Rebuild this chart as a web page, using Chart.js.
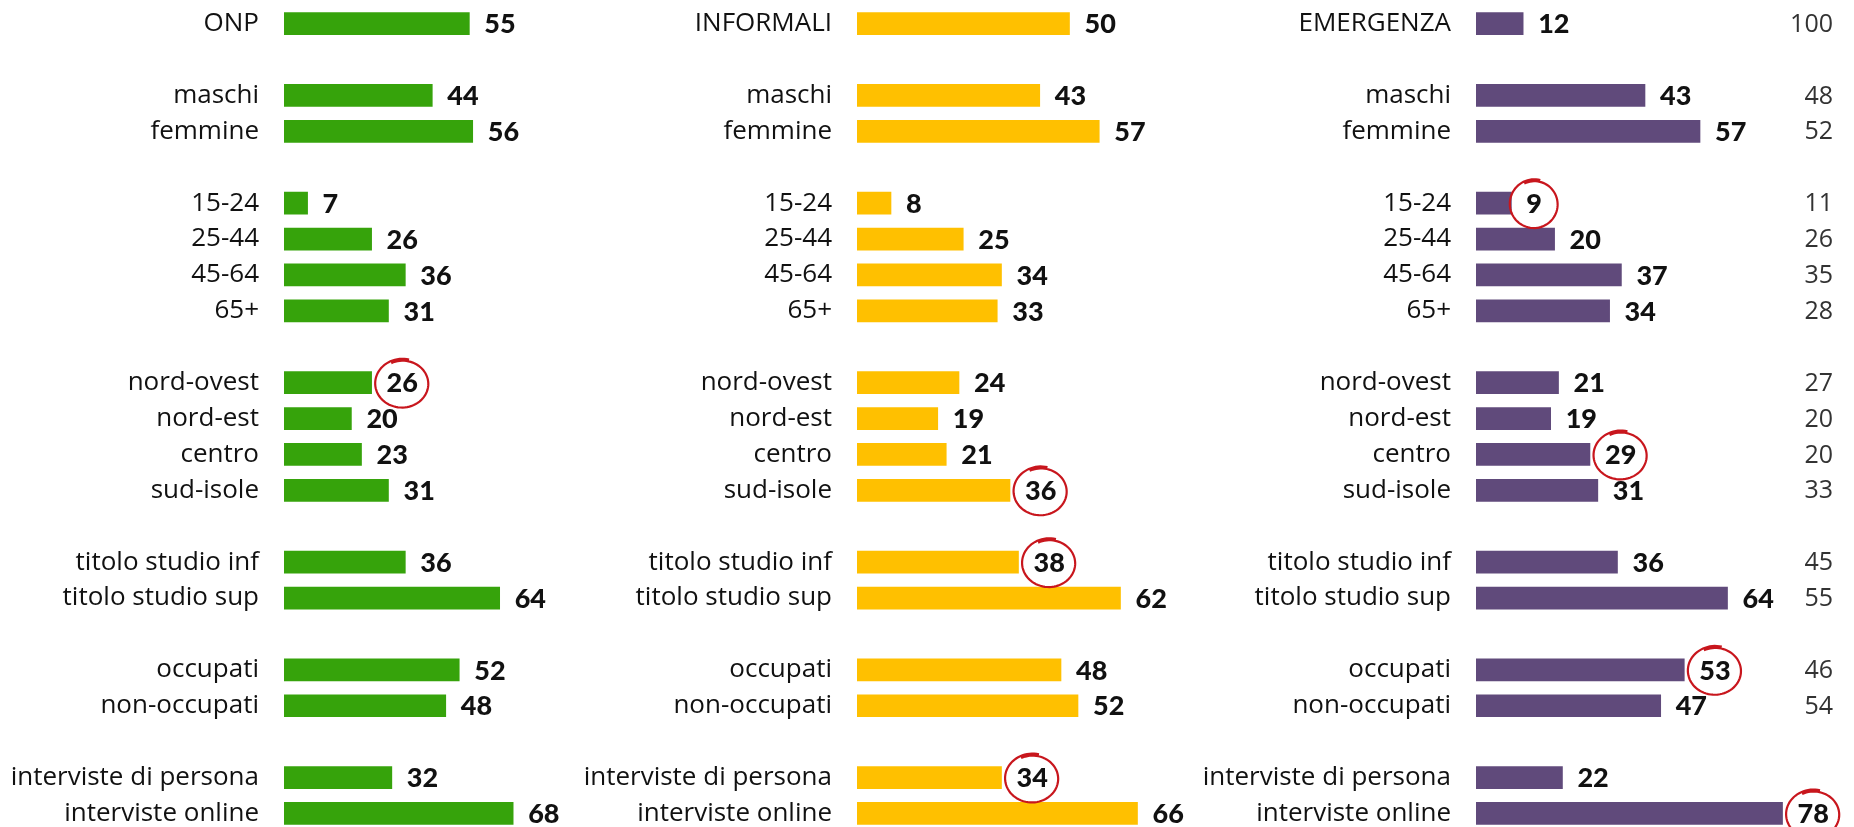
<!DOCTYPE html>
<html>
<head>
<meta charset="utf-8">
<script src="https://cdn.jsdelivr.net/npm/chart.js@4.4.1/dist/chart.umd.min.js"></script>
<style>
  html, body { margin: 0; padding: 0; background: #fff; overflow: hidden; }
  body { width: 1854px; height: 827px; position: relative; }
  canvas { position: absolute; top: 0; }
</style>
</head>
<body>
<canvas id="onp"></canvas>
<canvas id="informali"></canvas>
<canvas id="emergenza"></canvas>
<script>
// righe comuni ai tre pannelli ('' = riga vuota fra i gruppi)
const rowLabels = ['', 'maschi', 'femmine', '', '15-24', '25-44', '45-64', '65+', '',
  'nord-ovest', 'nord-est', 'centro', 'sud-isole', '', 'titolo studio inf', 'titolo studio sup', '',
  'occupati', 'non-occupati', '', 'interviste di persona', 'interviste online'];

const onp       = [55, null, 44, 56, null, 7, 26, 36, 31, null, 26, 20, 23, 31, null, 36, 64, null, 52, 48, null, 32, 68];
const informali = [50, null, 43, 57, null, 8, 25, 34, 33, null, 24, 19, 21, 36, null, 38, 62, null, 48, 52, null, 34, 66];
const emergenza = [12, null, 43, 57, null, 9, 20, 37, 34, null, 21, 19, 29, 31, null, 36, 64, null, 53, 47, null, 22, 78];
const totale    = [100, null, 48, 52, null, 11, 26, 35, 28, null, 27, 20, 20, 33, null, 45, 55, null, 46, 54, null, null, null];

// valori cerchiati in rosso (indice di riga)
const circledOnp = [10];
const circledInformali = [13, 15, 21];
const circledEmergenza = [5, 12, 18, 22];

const H = 840;

function drawCircle(ctx, cx, cy, rx, ry) {
  ctx.beginPath();
  const start = -Math.PI / 2 - 0.45;
  const sweep = Math.PI * 2 + 0.7;
  for (let k = 0; k <= 80; k++) {
    const t = k / 80;
    const a = start + t * sweep;
    const g = 0.95 + 0.09 * t;
    const x = cx + Math.cos(a) * rx * g;
    const y = cy + Math.sin(a) * ry * g;
    if (k === 0) ctx.moveTo(x, y); else ctx.lineTo(x, y);
  }
  ctx.stroke();
}

const barValues = {
  id: 'barValues',
  afterDatasetsDraw(chart, args, opts) {
    const ctx = chart.ctx;
    const meta = chart.getDatasetMeta(0);
    const data = chart.data.datasets[0].data;
    ctx.save();
    ctx.textBaseline = 'middle';
    meta.data.forEach((bar, i) => {
      const v = data[i];
      if (v == null) return;
      const txt = String(v);
      const x = bar.x + 15;
      ctx.font = '900 27px Lato';
      ctx.textAlign = 'left';
      ctx.fillStyle = '#111';
      ctx.fillText(txt, x, bar.y + 1);
      if (opts.circled.includes(i)) {
        const w = ctx.measureText(txt).width;
        ctx.strokeStyle = '#c8161d';
        ctx.lineWidth = 2.2;
        drawCircle(ctx, x + w / 2, bar.y + 1, Math.max(w / 2 + 11, 24), 24);
      }
    });
    if (opts.totals) {
      const ys = chart.scales.y;
      ctx.font = '400 25px "Open Sans"';
      ctx.textAlign = 'right';
      ctx.fillStyle = '#333';
      opts.totals.forEach((t, i) => {
        if (t == null) return;
        ctx.fillText(String(t), opts.totalsX, ys.getPixelForValue(i) + 1);
      });
    }
    ctx.restore();
  }
};

function makePanel(id, left, axisWidth, pxPerUnit, header, values, color, circled, totals) {
  const el = document.getElementById(id);
  const width = Math.round(axisWidth + 100 * pxPerUnit);
  el.width = width;
  el.height = H;
  el.style.left = left + 'px';
  new Chart(el, {
    type: 'bar',
    data: {
      labels: [header, ...rowLabels],
      datasets: [{
        data: values,
        backgroundColor: color,
        borderWidth: 0,
        barThickness: 22
      }]
    },
    plugins: [barValues],
    options: {
      indexAxis: 'y',
      responsive: false,
      animation: false,
      events: [],
      layout: { padding: { top: 5.7, bottom: H - 831.4, left: 0, right: 0 } },
      plugins: {
        legend: { display: false },
        tooltip: { enabled: false },
        barValues: { circled: circled, totals: totals, totalsX: 1833 - left }
      },
      scales: {
        x: { display: false, min: 0, max: 100 },
        y: {
          grid: { display: false, drawTicks: false },
          border: { display: false },
          afterFit(scale) {
            scale.width = axisWidth;
            scale.paddingTop = 0;
            scale.paddingBottom = 0;
          },
          ticks: {
            padding: 25,
            color: '#111',
            font: { family: '"Open Sans"', size: 26 },
            autoSkip: false
          }
        }
      }
    }
  });
}

Promise.all([
  document.fonts.load('400 26px "Open Sans"'),
  document.fonts.load('900 27px Lato')
]).catch(() => {}).then(() => {
  makePanel('onp', 0, 284, 3.37, 'ONP', onp, '#36a30b', circledOnp, null);
  makePanel('informali', 560, 297, 4.25, 'INFORMALI', informali, '#ffc000', circledInformali, null);
  makePanel('emergenza', 1180, 296, 3.93, 'EMERGENZA', emergenza, '#604a7b', circledEmergenza, totale);
});
</script>
</body>
</html>
